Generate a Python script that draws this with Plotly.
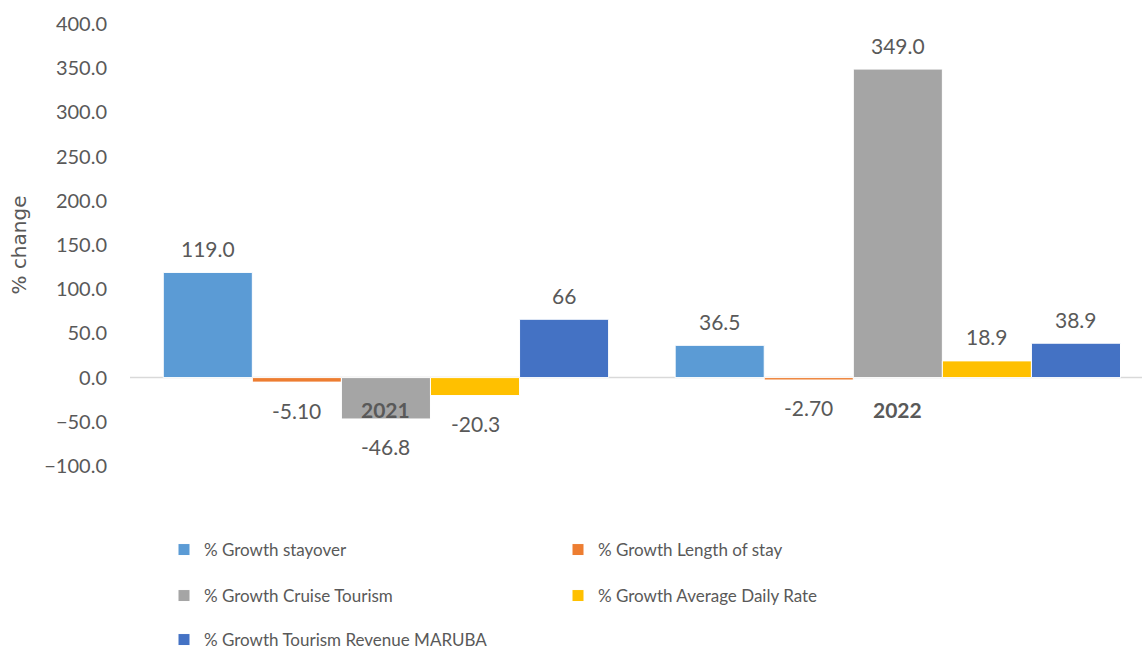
import plotly.graph_objects as go

categories = ["2021", "2022"]
series_names = [
    "% Growth stayover",
    "% Growth Length of stay",
    "% Growth Cruise Tourism",
    "% Growth Average Daily Rate",
    "% Growth Tourism Revenue MARUBA",
]
stayover = [119.0, 36.5]
length_of_stay = [-5.10, -2.70]
cruise = [-46.8, 349.0]
adr = [-20.3, 18.9]
revenue = [66, 38.9]
labels_stayover = ["119.0", "36.5"]
labels_length = ["-5.10", "-2.70"]
labels_cruise = ["-46.8", "349.0"]
labels_adr = ["-20.3", "18.9"]
labels_revenue = ["66", "38.9"]
y_ticks = [-100, -50, 0, 50, 100, 150, 200, 250, 300, 350, 400]

values = [stayover, length_of_stay, cruise, adr, revenue]
labels = [labels_stayover, labels_length, labels_cruise, labels_adr, labels_revenue]
colors = ["#5B9BD5", "#ED7D31", "#A5A5A5", "#FFC000", "#4472C4"]
legend_ids = ["legend", "legend", "legend2", "legend2", "legend3"]

FONT = "Lato"
TXT = "#595959"
W, H = 1142, 649
ML, MR, MT, MB = 130, 0, 24, 183
plot_w = W - ML - MR
plot_h = H - MT - MB
x_range = [-0.5, 1.477]
bargap = 0.13

fig = go.Figure()
for name, vals, col, lg in zip(series_names, values, colors, legend_ids):
    fig.add_trace(go.Bar(
        x=categories, y=vals, name=name, legend=lg,
        marker=dict(color=col, line=dict(color="white", width=1)),
    ))

# data labels via annotations, positioned relative to each bar
px_per_cat = plot_w / (x_range[1] - x_range[0])
bar_w = px_per_cat * (1 - bargap) / len(values)
n = len(values)
for i, (vals, labs) in enumerate(zip(values, labels)):
    for ci, (v, lab) in enumerate(zip(vals, labs)):
        fig.add_annotation(
            x=ci, y=v, text=lab, showarrow=False,
            xshift=(i - (n - 1) / 2) * bar_w,
            yshift=24 if v >= 0 else -28,
            font=dict(family=FONT, size=21, color=TXT),
            xanchor="center", yanchor="middle",
        )

# category labels next to the zero line
for ci, cat in enumerate(categories):
    fig.add_annotation(
        x=ci, y=0, text="<b>%s</b>" % cat, showarrow=False,
        yshift=-32, xanchor="center", yanchor="middle",
        font=dict(family=FONT, size=21, color=TXT),
    )

fig.add_shape(type="line", xref="paper", x0=0, x1=1, yref="y", y0=0, y1=0,
              line=dict(color="#D9D9D9", width=1.5), layer="below")

fig.update_layout(
    width=W, height=H,
    margin=dict(l=ML, r=MR, t=MT, b=MB, autoexpand=False),
    paper_bgcolor="white", plot_bgcolor="white",
    barmode="group", bargap=bargap, bargroupgap=0,
    font=dict(family=FONT, size=20, color=TXT),
    xaxis=dict(range=x_range, showticklabels=False, showgrid=False,
               zeroline=False, showline=False, ticks="", automargin=False),
    yaxis=dict(range=[-100, 400], tickvals=y_ticks, tickformat=".1f",
               showgrid=False, zeroline=False, showline=False,
               ticklabelstandoff=22, automargin=False,
               tickfont=dict(family=FONT, size=20, color=TXT),
               title=dict(text="% change", standoff=12,
                          font=dict(family="DejaVu Sans", size=20, color=TXT))),
    showlegend=True,
)

leg_common = dict(orientation="h", xanchor="left", yanchor="middle",
                  entrywidth=349, entrywidthmode="pixels", itemwidth=30,
                  font=dict(family=FONT, size=17, color=TXT),
                  bgcolor="rgba(0,0,0,0)", traceorder="normal")
lx = (164 - ML) / plot_w
def ypaper(py):
    return (H - MB - py) / plot_h
fig.update_layout(
    legend=dict(x=lx, y=ypaper(550), **leg_common),
    legend2=dict(x=lx, y=ypaper(596), **leg_common),
    legend3=dict(x=lx, y=ypaper(640), **leg_common),
)

fig.write_html("out.html", config={"displayModeBar": False},
               post_script="document.body.style.margin='0';")
